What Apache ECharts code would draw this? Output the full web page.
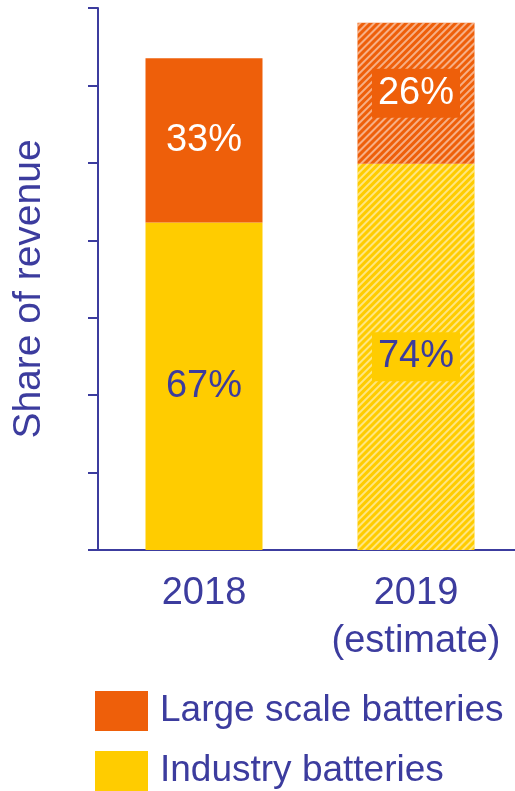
<!DOCTYPE html>
<html>
<head>
<meta charset="utf-8">
<script src="https://cdn.jsdelivr.net/npm/echarts@6/dist/echarts.min.js"></script>
<style>
  html, body { margin: 0; padding: 0; background: #fff; }
  #main { width: 515px; height: 791px; }
</style>
</head>
<body>
<div id="main"></div>
<script>
// data
var categories = ['2018', '2019\n(estimate)'];
var industry = [4.23, 4.99];
var largeScale = [2.12, 1.82];
var industryLabels = ['67%', '74%'];
var largeLabels = ['33%', '26%'];

var ink = '#3C3C9E';
var orange = '#EE5F0A';
var yellow = '#FFCC00';
var font = 'Liberation Sans, Arial';

var hatch = {
  symbol: 'rect',
  color: 'rgba(255,255,255,0.5)',
  dashArrayX: [1, 0],
  dashArrayY: [1.6, 2.8],
  rotation: -Math.PI / 4
};

function makeData(vals, color) {
  return vals.map(function (v, i) {
    var item = { value: v };
    if (i === 1) {
      item.itemStyle = { decal: hatch };
      item.label = { backgroundColor: color, padding: [7, 6, 4, 6] };
    }
    return item;
  });
}

function legendAt(name, top) {
  return {
    data: [name],
    left: 95,
    top: top,
    padding: 0,
    itemWidth: 53,
    itemHeight: 40,
    icon: 'rect',
    textStyle: { color: ink, fontSize: 37, lineHeight: 40, fontFamily: font, padding: [2, 0, 0, 7] }
  };
}

var chart = echarts.init(document.getElementById('main'));
var option = {
  animation: false,
  grid: { left: 98, top: 8, width: 424, bottom: 241, outerBoundsMode: 'none' },
  legend: [
    legendAt('Large scale batteries', 690),
    legendAt('Industry batteries', 750)
  ],
  xAxis: {
    type: 'category',
    data: categories,
    axisLine: { lineStyle: { color: ink, width: 2 } },
    axisTick: { show: false },
    axisLabel: { interval: 0, color: ink, fontSize: 38, fontFamily: font, margin: 20, lineHeight: 48 }
  },
  yAxis: {
    type: 'value',
    min: 0,
    max: 7,
    interval: 1,
    name: 'Share of revenue',
    nameLocation: 'middle',
    nameGap: 49,
    nameTextStyle: { color: ink, fontSize: 39, fontFamily: font, padding: [0, 20, 0, 0] },
    axisLine: { show: true, lineStyle: { color: ink, width: 2 } },
    axisTick: { show: true, length: 10, lineStyle: { color: ink, width: 2 } },
    axisLabel: { show: false },
    splitLine: { show: false }
  },
  series: [
    {
      name: 'Industry batteries',
      type: 'bar',
      stack: 'rev',
      barWidth: 117,
      itemStyle: { color: yellow },
      label: {
        show: true,
        position: 'inside',
        color: ink,
        fontSize: 38,
        fontFamily: font,
        formatter: function (p) { return industryLabels[p.dataIndex]; }
      },
      data: makeData(industry, yellow)
    },
    {
      name: 'Large scale batteries',
      type: 'bar',
      stack: 'rev',
      barWidth: 117,
      itemStyle: { color: orange },
      label: {
        show: true,
        position: 'inside',
        color: '#fff',
        fontSize: 38,
        fontFamily: font,
        formatter: function (p) { return largeLabels[p.dataIndex]; }
      },
      data: makeData(largeScale, orange)
    }
  ]
};
chart.setOption(option);
</script>
</body>
</html>
